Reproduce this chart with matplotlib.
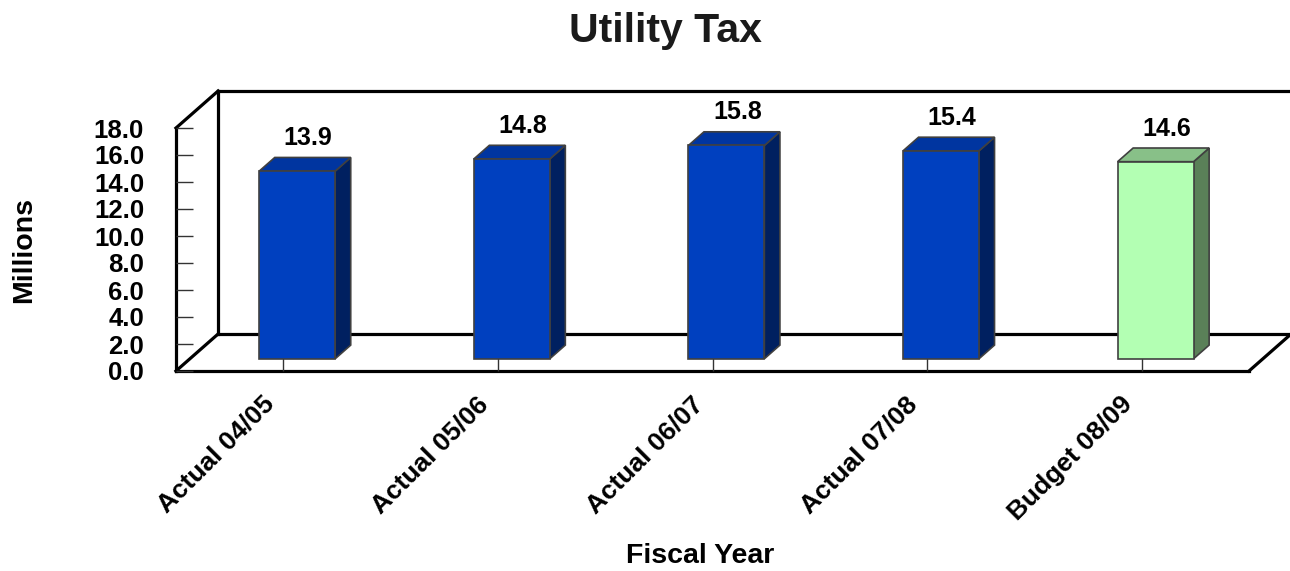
import matplotlib
matplotlib.use("Agg")
import matplotlib.pyplot as plt
from matplotlib.patches import Polygon

plt.rcParams['font.family'] = ['Liberation Sans', 'DejaVu Sans']
plt.rcParams['font.weight'] = 'bold'

categories = ["Actual 04/05", "Actual 05/06", "Actual 06/07", "Actual 07/08", "Budget 08/09"]
values = [13.9, 14.8, 15.8, 15.4, 14.6]
yticks = [0, 2, 4, 6, 8, 10, 12, 14, 16, 18]

# face colours: front, top, side
blue = ("#0040BF", "#0035A0", "#002060")
green = ("#B3FFB3", "#88C088", "#5A8058")
bar_colors = [blue, blue, blue, blue, green]

# depth of the 3d box in data units, and where the bars sit inside it
DX, DY = 0.196, 2.74
f0, f1 = 0.33, 0.70
half_w = 0.177

W, H = 1290, 571
fig = plt.figure(figsize=(W / 100, H / 100), dpi=100)
x0, x1, ytop, ybot = 176, 1249, 128, 371
ax = fig.add_axes([x0 / W, 1 - ybot / H, (x1 - x0) / W, (ybot - ytop) / H])
ax.set_xlim(0, 5)
ax.set_ylim(0, 18)
for s in ax.spines.values():
    s.set_visible(False)
ax.patch.set_visible(False)

# box frame
k = dict(color="black", lw=2.3, solid_capstyle="projecting", clip_on=False, zorder=1)
n = len(categories)
ax.plot([0, n], [0, 0], **k)
ax.plot([0, 0], [0, 18], **k)
ax.plot([0, DX], [18, 18 + DY], **k)
ax.plot([0, DX], [0, DY], **k)
ax.plot([n, n + DX], [0, DY], **k)
ax.plot([DX, n + DX], [DY, DY], **k)
ax.plot([DX, DX], [DY, 18 + DY], **k)
ax.plot([n + DX, n + DX], [DY, 18 + DY], **k)
ax.plot([DX, n + DX], [18 + DY, 18 + DY], **k)

for i, (v, cols) in enumerate(zip(values, bar_colors)):
    c = i + 0.5
    l, r = c - half_w, c + half_w
    ax0, ay0 = f0 * DX, f0 * DY
    ax1, ay1 = f1 * DX, f1 * DY
    front = [(l + ax0, ay0), (r + ax0, ay0), (r + ax0, v + ay0), (l + ax0, v + ay0)]
    top = [(l + ax0, v + ay0), (r + ax0, v + ay0), (r + ax1, v + ay1), (l + ax1, v + ay1)]
    side = [(r + ax0, ay0), (r + ax1, ay1), (r + ax1, v + ay1), (r + ax0, v + ay0)]
    for pts, col in zip((side, top, front), (cols[2], cols[1], cols[0])):
        ax.add_patch(Polygon(pts, closed=True, facecolor=col, edgecolor="#404040",
                             lw=1.2, zorder=3, clip_on=False))
    ax.annotate(f"{v:.1f}", (c + (ax0 + ax1) / 2 + 0.015, v + ay1), xytext=(0, 9),
                textcoords="offset points", ha="center", va="baseline",
                fontsize=18, fontweight="bold", annotation_clip=False)
    # category label, slanted under the floor
    ax.annotate(categories[i], (c, 0), xytext=(-15.5, -15), textcoords="offset points",
                ha="right", va="top", rotation=45, rotation_mode="anchor",
                fontsize=19, fontweight="bold", annotation_clip=False)

ax.set_yticks(yticks)
ax.set_yticklabels([f"{t:.1f}" for t in yticks])
ax.tick_params(axis="y", direction="in", length=12.5, width=1, color="#333333",
               pad=23, labelsize=18.5)
ax.set_xticks([i + 0.5 for i in range(n)])
ax.set_xticklabels([])
ax.tick_params(axis="x", direction="in", length=9.5, width=1, color="#333333")

fig.text(665 / W, 1 - 31 / H, "Utility Tax", ha="center", va="center",
         fontsize=29.5, fontweight="bold", color="#1a1a1a")
fig.text(700 / W, 1 - 556 / H, "Fiscal Year", ha="center", va="center",
         fontsize=20.5, fontweight="bold")
fig.text(24 / W, 1 - 250 / H, "Millions", ha="center", va="center", rotation=90,
         fontsize=20.5, fontweight="bold")

fig.savefig("out.png", dpi=100)
